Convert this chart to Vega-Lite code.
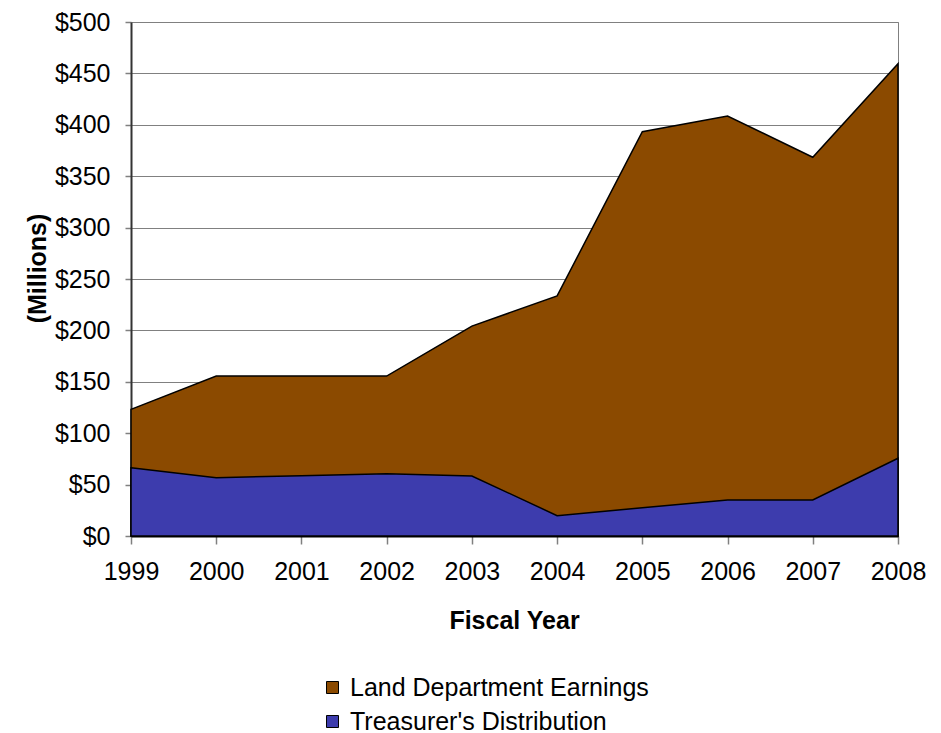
{
  "$schema": "https://vega.github.io/schema/vega-lite/v6.json",
  "width": 767,
  "height": 514,
  "autosize": {"type": "none"},
  "padding": {"left": 131, "top": 22, "right": 43, "bottom": 197},
  "background": "white",
  "config": {
    "font": "Liberation Sans",
    "view": {"stroke": "#808080", "strokeWidth": 1}
  },
  "data": {
    "values": [
      {"year": 1999, "series": "Land Department Earnings", "value": 123.2},
      {"year": 2000, "series": "Land Department Earnings", "value": 155.6},
      {"year": 2001, "series": "Land Department Earnings", "value": 155.6},
      {"year": 2002, "series": "Land Department Earnings", "value": 155.6},
      {"year": 2003, "series": "Land Department Earnings", "value": 204.2},
      {"year": 2004, "series": "Land Department Earnings", "value": 233.5},
      {"year": 2005, "series": "Land Department Earnings", "value": 393.3},
      {"year": 2006, "series": "Land Department Earnings", "value": 408.6},
      {"year": 2007, "series": "Land Department Earnings", "value": 368.4},
      {"year": 2008, "series": "Land Department Earnings", "value": 459.5},
      {"year": 1999, "series": "Treasurer's Distribution", "value": 66.4},
      {"year": 2000, "series": "Treasurer's Distribution", "value": 56.7},
      {"year": 2001, "series": "Treasurer's Distribution", "value": 58.7},
      {"year": 2002, "series": "Treasurer's Distribution", "value": 60.6},
      {"year": 2003, "series": "Treasurer's Distribution", "value": 58.4},
      {"year": 2004, "series": "Treasurer's Distribution", "value": 19.8},
      {"year": 2005, "series": "Treasurer's Distribution", "value": 27.5},
      {"year": 2006, "series": "Treasurer's Distribution", "value": 35},
      {"year": 2007, "series": "Treasurer's Distribution", "value": 35},
      {"year": 2008, "series": "Treasurer's Distribution", "value": 75.6}
    ]
  },
  "encoding": {
    "x": {
      "field": "year",
      "type": "quantitative",
      "scale": {"domain": [1999, 2008], "nice": false, "zero": false},
      "axis": {
        "values": [1999, 2000, 2001, 2002, 2003, 2004, 2005, 2006, 2007, 2008],
        "format": "d",
        "grid": false,
        "title": "Fiscal Year",
        "titleFont": "Liberation Sans",
        "titleFontSize": 25,
        "titleFontWeight": "bold",
        "titleColor": "black",
        "titleX": 383,
        "titleY": 84,
        "titleBaseline": "middle",
        "titleAlign": "center",
        "labelFontSize": 25,
        "labelColor": "black",
        "labelPadding": 15,
        "labelFlush": false,
        "labelOverlap": false,
        "tickSize": 8,
        "tickColor": "#808080",
        "tickWidth": 1.5,
        "domainColor": "black",
        "domainWidth": 2
      }
    },
    "y": {
      "field": "value",
      "type": "quantitative",
      "stack": null,
      "scale": {"domain": [0, 500], "nice": false},
      "axis": {
        "values": [0, 50, 100, 150, 200, 250, 300, 350, 400, 450, 500],
        "format": "$.0f",
        "title": "(Millions)",
        "titleFont": "Liberation Sans",
        "titleFontSize": 25,
        "titleFontWeight": "bold",
        "titleColor": "black",
        "titleAngle": -90,
        "titleX": -94,
        "titleY": 246,
        "titleAlign": "center",
        "titleBaseline": "middle",
        "labelFontSize": 25,
        "labelColor": "black",
        "labelPadding": 15,
        "labelFlush": false,
        "labelOverlap": false,
        "tickSize": 6,
        "tickColor": "#808080",
        "tickWidth": 1.5,
        "gridColor": "#808080",
        "gridWidth": 1,
        "gridOpacity": 1,
        "domainColor": "#333333",
        "domainWidth": 2
      }
    },
    "color": {
      "field": "series",
      "type": "nominal",
      "scale": {
        "domain": ["Land Department Earnings", "Treasurer's Distribution"],
        "range": ["#8B4A00", "#3D3CAD"]
      },
      "legend": {
        "title": null,
        "orient": "none",
        "legendX": 189,
        "legendY": 653,
        "direction": "vertical",
        "padding": 0,
        "symbolType": "square",
        "symbolSize": 144,
        "symbolStrokeColor": "black",
        "symbolStrokeWidth": 1,
        "symbolOpacity": 1,
        "labelFontSize": 25,
        "labelColor": "black",
        "labelOffset": 5,
        "labelLimit": 0,
        "rowPadding": 8
      }
    }
  },
  "layer": [
    {
      "transform": [{"filter": "datum.series === 'Land Department Earnings'"}],
      "mark": {"type": "area", "stroke": "black", "strokeWidth": 1.5, "opacity": 1, "fillOpacity": 1}
    },
    {
      "transform": [{"filter": "datum.series === \"Treasurer's Distribution\""}],
      "mark": {"type": "area", "stroke": "black", "strokeWidth": 1.5, "opacity": 1, "fillOpacity": 1}
    }
  ]
}
